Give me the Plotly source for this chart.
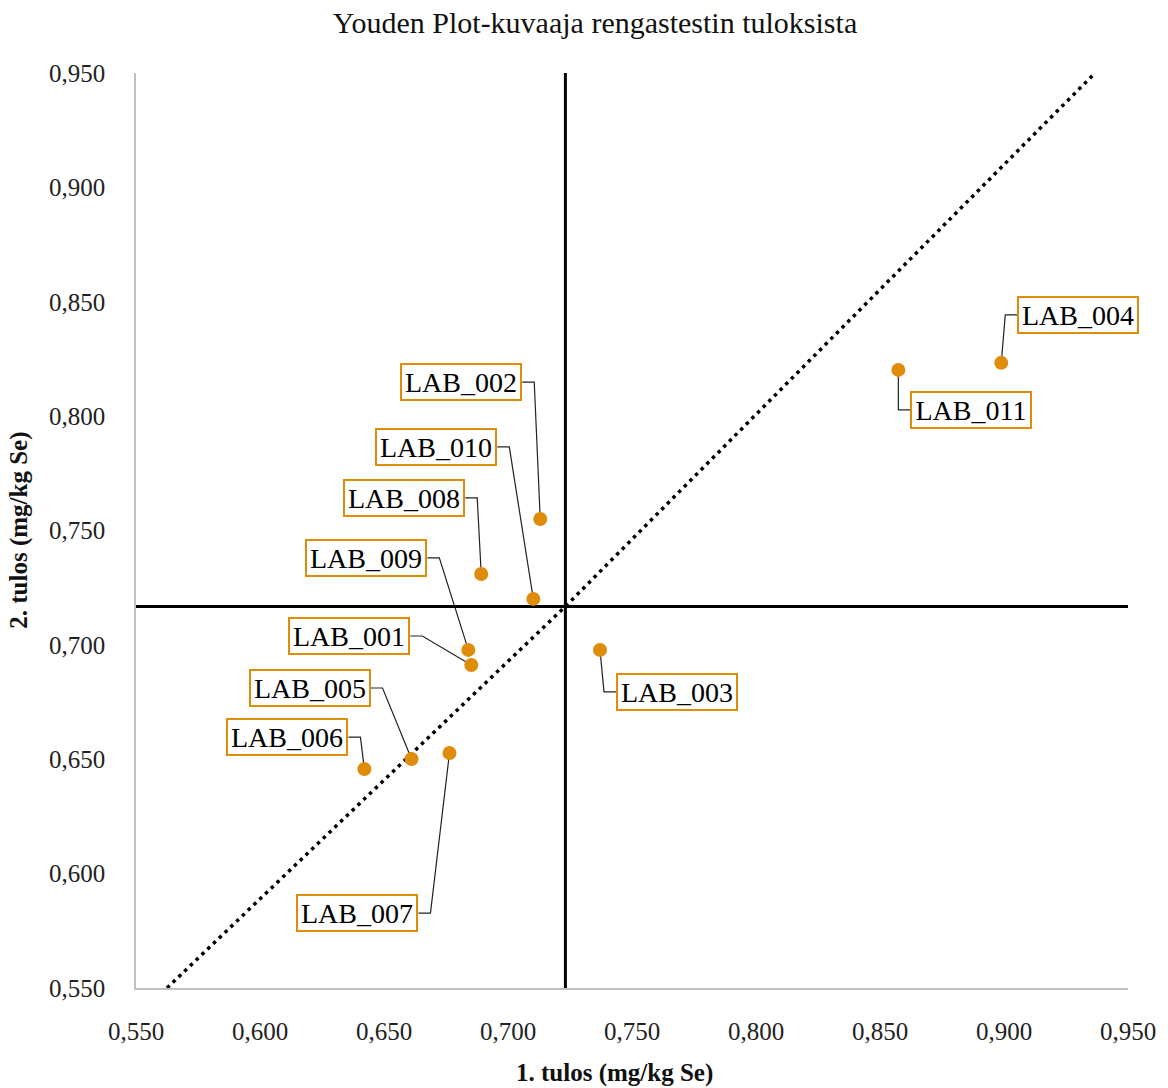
import plotly.graph_objects as go

# Ring test results: first and second measurement per laboratory (mg/kg Se)
labs = ["LAB_001", "LAB_002", "LAB_003", "LAB_004", "LAB_005", "LAB_006",
        "LAB_007", "LAB_008", "LAB_009", "LAB_010", "LAB_011"]
result_1 = [0.6852, 0.7130, 0.7371, 0.8989, 0.6611, 0.6421,
            0.6764, 0.6892, 0.6840, 0.7102, 0.8574]
result_2 = [0.6912, 0.7550, 0.6978, 0.8233, 0.6501, 0.6457,
            0.6527, 0.7310, 0.6978, 0.7201, 0.8202]

# Reference diagonal end points
diag_x_start, diag_y_start = 0.5625, 0.550
diag_x_end, diag_y_end = 0.9367, 0.950

axis_ticks = [0.55, 0.60, 0.65, 0.70, 0.75, 0.80, 0.85, 0.90, 0.95]

# Label box placement: offset of box centre from its point, pixels (y up)
label_offsets = {
    "LAB_001": (-122, 29), "LAB_002": (-79, 137), "LAB_003": (77, -42),
    "LAB_004": (77, 48), "LAB_005": (-102, 71), "LAB_006": (-77, 32),
    "LAB_007": (-92, -160), "LAB_008": (-77, 76), "LAB_009": (-102, 92),
    "LAB_010": (-97, 152), "LAB_011": (73, -40),
}

mean_x = sum(result_1) / len(result_1)
mean_y = sum(result_2) / len(result_2)
lo, hi = axis_ticks[0], axis_ticks[-1]

ORANGE = "#E08C0B"
SERIF = "Times New Roman, Liberation Serif, DejaVu Serif, serif"

fig = go.Figure()

# dotted diagonal through the mean point
fig.add_trace(go.Scatter(
    x=[diag_x_start, mean_x, diag_x_end], y=[diag_y_start, mean_y, diag_y_end],
    mode="lines", line=dict(color="black", width=3.5, dash="3.5px,4.5px"),
    hoverinfo="skip", showlegend=False))

# mean lines
fig.add_trace(go.Scatter(x=[mean_x, mean_x], y=[lo, hi], mode="lines",
                         line=dict(color="black", width=3), hoverinfo="skip",
                         showlegend=False))
fig.add_trace(go.Scatter(x=[lo, hi], y=[mean_y, mean_y], mode="lines",
                         line=dict(color="black", width=3), hoverinfo="skip",
                         showlegend=False))

# lab results
fig.add_trace(go.Scatter(x=result_1, y=result_2, mode="markers", text=labs,
                         marker=dict(color=ORANGE, size=14),
                         showlegend=False))

BOX_W, BOX_H, ELBOW = 122, 38, 12
shapes = []
annotations = []
for lab, xv, yv in zip(labs, result_1, result_2):
    dx, dy = label_offsets[lab]
    side = 1 if dx < 0 else -1           # box left of the point -> connect at right edge
    edge_x = dx + side * BOX_W / 2
    elbow_x = edge_x + side * ELBOW
    shapes.append(dict(
        type="path", xref="x", yref="y", xsizemode="pixel", ysizemode="pixel",
        xanchor=xv, yanchor=yv,
        path=f"M 0,0 L {elbow_x},{dy} L {edge_x},{dy}",
        line=dict(color="#222222", width=1.2), layer="below"))
    annotations.append(dict(
        x=xv, y=yv, xref="x", yref="y", text=lab, showarrow=False,
        xshift=dx, yshift=dy, width=BOX_W - 4, height=BOX_H - 4,
        bgcolor="white", bordercolor=ORANGE, borderwidth=2, borderpad=0,
        font=dict(family=SERIF, size=28, color="black")))

# axis titles
annotations.append(dict(
    text="<b>1. tulos (mg/kg Se)</b>", xref="paper", yref="paper",
    x=(615 - 136) / 994, y=-(1073 - 988) / 915, showarrow=False,
    xanchor="center", yanchor="middle",
    font=dict(family=SERIF, size=25, color="#111111")))
annotations.append(dict(
    text="<b>2. tulos (mg/kg Se)</b>", xref="paper", yref="paper",
    x=-(136 - 18) / 994, y=0.5, showarrow=False, textangle=-90,
    xanchor="center", yanchor="middle",
    font=dict(family=SERIF, size=25, color="#111111")))

axis_common = dict(
    range=[lo, hi], tickvals=axis_ticks, tickformat=".3f",
    showgrid=False, zeroline=False, showline=True, linecolor="#BFBFBF",
    linewidth=1.5, ticks="", tickfont=dict(family=SERIF, size=25, color="#222222"),
    fixedrange=True)

fig.update_layout(
    width=1168, height=1088,
    margin=dict(l=136, r=38, t=73, b=100),
    paper_bgcolor="white", plot_bgcolor="white",
    separators=", ",
    title=dict(text="Youden Plot-kuvaaja rengastestin tuloksista",
               x=595 / 1168, xref="container", xanchor="center",
               y=1 - 22 / 1088, yref="container", yanchor="middle",
               font=dict(family=SERIF, size=30, color="#111111")),
    xaxis=dict(**axis_common, ticklabelstandoff=20),
    yaxis=dict(**axis_common, ticklabelstandoff=24),
    shapes=shapes, annotations=annotations,
)

fig.write_html("out.html")
